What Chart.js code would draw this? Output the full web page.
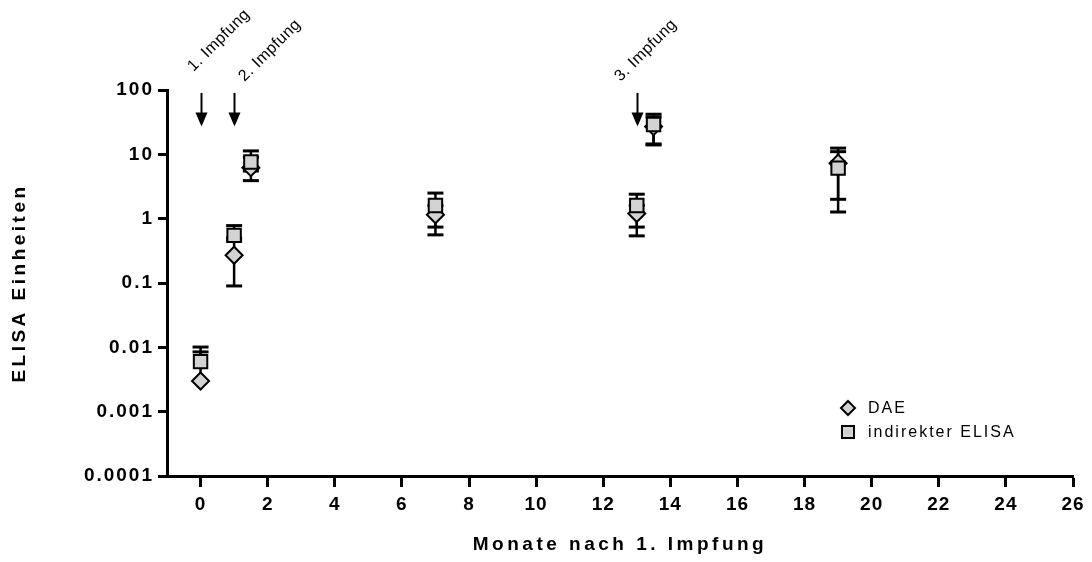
<!DOCTYPE html>
<html>
<head>
<meta charset="utf-8">
<script src="https://cdn.jsdelivr.net/npm/chart.js@4.4.1/dist/chart.umd.min.js"></script>
<style>
  html, body { margin: 0; padding: 0; background: #fff; }
  #wrap { width: 1092px; height: 562px; }
</style>
</head>
<body>
<div id="wrap"><canvas id="c" width="1092" height="562"></canvas></div>
<script>
// Sampling times (months after the first vaccination)
const months = [0, 1, 1.5, 7, 13, 13.5, 19];

// DAE series: values and error bar ends (null = no bar on that side)
const daeValues = [0.003, 0.27, 6.2, 1.15, 1.2, 27, 7.3];
const daeUpper  = [0.0085, 0.45, 9, 1.6, 1.6, 38, 12.5];
const daeLower  = [null, 0.09, 3.9, 0.56, 0.54, 14.5, 2.0];

// indirect ELISA series
const elisaValues = [0.006, 0.55, 7.6, 1.6, 1.6, 29, 6.1];
const elisaUpper  = [0.0101, 0.78, 11.3, 2.5, 2.4, 42, 11];
const elisaLower  = [null, 0.5, 5.5, 0.74, 0.74, 14, 1.27];

// Axis ticks
const xTicks = [0, 2, 4, 6, 8, 10, 12, 14, 16, 18, 20, 22, 24, 26];
const yTicks = [0.0001, 0.001, 0.01, 0.1, 1, 10, 100];
const yTickLabels = ['0.0001', '0.001', '0.01', '0.1', '1', '10', '100'];

// Vaccination dates
const doseMonths = [0, 1, 13];
const doseLabels = ['1. Impfung', '2. Impfung', '3. Impfung'];

const FONT = '"Liberation Sans", Arial, Helvetica, sans-serif';
Chart.defaults.font.family = FONT;
Chart.defaults.color = '#000';

const FILL = '#d3d3d3';

const toPoints = (vals) => months.map((m, i) => ({ x: m, y: vals[i] }));

// Letter spacing: one value for axis titles, one per axis for tick labels
const spacing = {
  id: 'spacing',
  beforeDraw(chart, args, opts) {
    chart.ctx.letterSpacing = opts.title;
    Object.values(chart.scales).forEach(s => {
      if (s._spacedLabels) return;
      const draw = s.drawLabels.bind(s);
      s.drawLabels = (area) => {
        const prev = s.ctx.letterSpacing;
        s.ctx.letterSpacing = opts.ticks[s.id] || '0px';
        draw(area);
        s.ctx.letterSpacing = prev;
      };
      s._spacedLabels = true;
    });
  },
  afterDraw(chart) { chart.ctx.letterSpacing = '0px'; }
};

// Vertical error bars with caps, drawn beneath the markers
const errorBars = {
  id: 'errorBars',
  beforeDatasetsDraw(chart) {
    const { ctx, scales: { x, y } } = chart;
    const series = [
      { vals: daeValues, up: daeUpper, lo: daeLower },
      { vals: elisaValues, up: elisaUpper, lo: elisaLower }
    ];
    ctx.save();
    ctx.strokeStyle = '#000';
    series.forEach(s => {
      months.forEach((m, i) => {
        const px = x.getPixelForValue(m);
        const py = y.getPixelForValue(s.vals[i]);
        [s.up[i], s.lo[i]].forEach(end => {
          if (end == null) return;
          const ey = y.getPixelForValue(end);
          ctx.lineWidth = 2.5;
          ctx.beginPath(); ctx.moveTo(px, py); ctx.lineTo(px, ey); ctx.stroke();
          ctx.lineWidth = 3;
          ctx.beginPath(); ctx.moveTo(px - 8, ey); ctx.lineTo(px + 8, ey); ctx.stroke();
        });
      });
    });
    ctx.restore();
  }
};

// Arrows and rotated labels marking the vaccinations
const doseMarks = {
  id: 'doseMarks',
  afterDraw(chart, args, opts) {
    const { ctx, scales: { x, y }, chartArea } = chart;
    ctx.save();
    ctx.fillStyle = '#000';
    ctx.strokeStyle = '#000';
    doseMonths.forEach((m, i) => {
      const px = Math.round(x.getPixelForValue(m)) + 0.5;
      const top = y.getPixelForValue(opts.arrowTop);
      const tip = y.getPixelForValue(opts.arrowTip);
      ctx.lineWidth = 2;
      ctx.beginPath(); ctx.moveTo(px, top); ctx.lineTo(px, tip - 10); ctx.stroke();
      ctx.beginPath();
      ctx.moveTo(px - 6, tip - 14); ctx.lineTo(px + 6, tip - 14); ctx.lineTo(px, tip);
      ctx.closePath(); ctx.fill();

      ctx.save();
      ctx.letterSpacing = '0.5px';
      ctx.font = '16px ' + FONT;
      ctx.textAlign = 'left';
      ctx.textBaseline = 'alphabetic';
      ctx.translate(px + opts.shiftX[i], chartArea.top - opts.rise[i]);
      ctx.rotate(-Math.PI / 4);
      ctx.fillText(doseLabels[i], 0, 0);
      ctx.restore();
    });
    ctx.restore();
  }
};

// Legend in the lower right of the plot
const legendBox = {
  id: 'legendBox',
  afterDraw(chart, args, opts) {
    const { ctx } = chart;
    ctx.save();
    ctx.letterSpacing = '2px';
    ctx.font = '16px ' + FONT;
    ctx.textBaseline = 'middle';
    ctx.textAlign = 'left';
    ctx.lineWidth = 2;
    ctx.strokeStyle = '#000';
    chart.data.datasets.slice().sort((a, b) => b.order - a.order).forEach((ds, i) => {
      const cx = opts.x, cy = opts.y + i * opts.gap;
      ctx.fillStyle = FILL;
      ctx.beginPath();
      if (ds.pointStyle === 'rectRot') {
        const r = 7;
        ctx.moveTo(cx, cy - r); ctx.lineTo(cx + r, cy); ctx.lineTo(cx, cy + r); ctx.lineTo(cx - r, cy);
        ctx.closePath();
      } else {
        ctx.rect(cx - 6, cy - 6, 12, 12);
      }
      ctx.fill(); ctx.stroke();
      ctx.fillStyle = '#000';
      ctx.fillText(ds.label, opts.x + opts.textGap, cy + 1);
    });
    ctx.restore();
  }
};

new Chart(document.getElementById('c'), {
  type: 'scatter',
  data: {
    datasets: [
      {
        label: 'DAE',
        data: toPoints(daeValues),
        order: 1,
        pointStyle: 'rectRot',
        pointRadius: 8.5,
        pointBorderWidth: 2,
        pointBackgroundColor: FILL,
        pointBorderColor: '#000'
      },
      {
        label: 'indirekter ELISA',
        data: toPoints(elisaValues),
        order: 0,
        pointStyle: 'rect',
        pointRadius: 9.5,
        pointBorderWidth: 2,
        pointBackgroundColor: FILL,
        pointBorderColor: '#000'
      }
    ]
  },
  options: {
    responsive: false,
    devicePixelRatio: 1,
    animation: false,
    events: [],
    layout: { padding: { top: 90, right: 19, left: 0, bottom: 0 } },
    plugins: {
      legend: { display: false },
      tooltip: { enabled: false },
      spacing: { title: '3.5px', ticks: { x: '1px', y: '2px' } },
      doseMarks: { arrowTop: 90, arrowTip: 27, shiftX: [-8, 10, -17], rise: [18, 8, 8] },
      legendBox: { x: 848, y: 408, gap: 24, textGap: 20 }
    },
    scales: {
      x: {
        type: 'linear',
        min: -1,
        max: 26,
        afterBuildTicks: s => { s.ticks = xTicks.map(v => ({ value: v })); },
        afterFit: s => { s.height = 86; },
        grid: { drawOnChartArea: false, drawTicks: true, tickLength: 11, tickWidth: 3, tickColor: '#000' },
        border: { display: true, color: '#000', width: 3 },
        ticks: { font: { size: 19, weight: 'bold' }, color: '#000', padding: 6, maxRotation: 0, autoSkip: false },
        title: { display: true, text: 'Monate nach 1. Impfung', font: { size: 19, weight: 'bold' }, color: '#000', padding: { top: 0, bottom: 6 } }
      },
      y: {
        type: 'logarithmic',
        min: 0.0001,
        max: 100,
        afterBuildTicks: s => { s.ticks = yTicks.map(v => ({ value: v })); },
        afterFit: s => { s.width = 167; },
        grid: { drawOnChartArea: false, drawTicks: true, tickLength: 9, tickWidth: 3, tickColor: '#000' },
        border: { display: true, color: '#000', width: 3 },
        ticks: { font: { size: 19, weight: 'bold' }, color: '#000', padding: 4, autoSkip: false,
                 callback: (v, i) => yTickLabels[i] },
        title: { display: true, text: 'ELISA Einheiten', font: { size: 19, weight: 'bold' }, color: '#000', padding: { top: 8, bottom: 0 } }
      }
    }
  },
  plugins: [spacing, errorBars, doseMarks, legendBox]
});
</script>
</body>
</html>
